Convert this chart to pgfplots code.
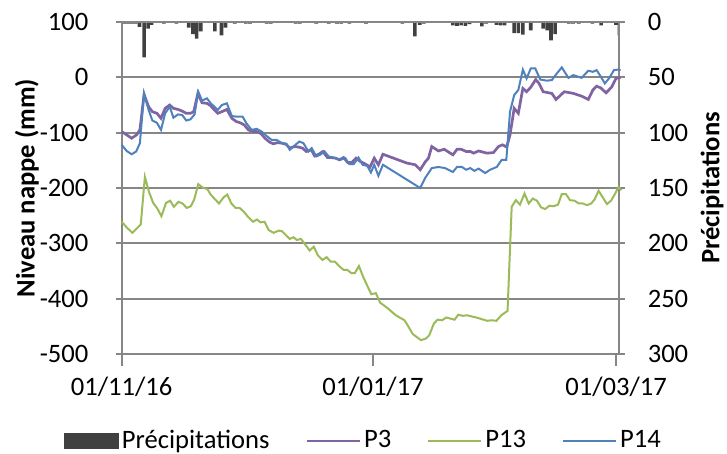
\documentclass[border=0pt]{standalone}
\usepackage{fontspec}
\setmainfont{Carlito}
\usepackage{pgfplots}
\pgfplotsset{compat=1.18}
\definecolor{axgray}{HTML}{868686}
\definecolor{bargray}{HTML}{404040}
\definecolor{cP3}{HTML}{8064A2}
\definecolor{cP13}{HTML}{9BBB59}
\definecolor{cP14}{HTML}{4F81BD}
\newcommand{\chartfont}{\fontsize{13.3}{16}\selectfont}
\begin{document}
\chartfont
\begin{tikzpicture}
\useasboundingbox (-60.85pt,-50pt) rectangle (302.65pt,177pt);
% secondary axis: precipitation bars (reversed), grid
\begin{axis}[
  width=248.4pt, height=166pt, scale only axis,
  xmin=0, xmax=120, ymin=0, ymax=300, y dir=reverse,
  axis x line=none, axis y line*=right,
  axis line style={axgray, line width=1pt, -},
  ytick={0,50,...,300},
  yticklabels={0,50,100,150,200,250,300},
  ymajorgrids, grid style={axgray, line width=1pt},
  tick align=center, major tick length=6pt,
  tick style={axgray, line width=1pt},
  yticklabel style={font=\chartfont, anchor=west, xshift=7pt},
  ylabel={\bfseries Précipitations},
  ylabel style={at={(axis description cs:1.1884,0.5)}, anchor=center, font=\chartfont},
]
\addplot[ybar, bar width=1.8pt, fill=bargray, draw=none] coordinates {
(0.6,1.5) (1.5,1.5) (2.4,1.5) (3.3,1.5) (4.3,4.5) (5.4,32) (6.4,6) (7.2,2.5)
(10.2,1.5) (13.2,1.5) (16.2,5) (17.2,11) (18.1,15) (19.1,8.5) (22.5,8.5)
(24.1,12) (25.1,5) (27.3,1.5) (30,1.5) (31,1.5) (35,1.5) (36,1.5) (42,1.5)
(43,1.5) (47,1.5) (50,1.5) (52,1.5) (53,1.5) (55,1.5) (59,1.5) (67.8,1.5)
(70.8,13) (72,2.5) (73,1.5) (80,3) (81,3.5) (82,3) (83,3.5) (84,2) (87,4)
(88,1.5) (90.5,2.5) (91.5,3) (92.5,3) (94.8,10) (95.8,10) (96.9,11.5)
(98.8,7.5) (101.8,6) (102.8,7.5) (103.7,16.5) (104.7,11) (108,1.5) (109,1.5)
(110.4,1.5) (113.7,1.5) (115.8,3) (119.4,2.5) (120.2,12)
};
\end{axis}
% primary axis: water levels
\begin{axis}[
  width=248.4pt, height=166pt, scale only axis,
  xmin=0, xmax=120, ymin=-500, ymax=100,
  clip=false,
  axis line style={axgray, line width=1pt, -},
  xtick={0,60.7,119.4},
  xticklabels={01/11/16,01/01/17,01/03/17},
  xtick pos=bottom, ytick pos=left,
  ytick={-500,-400,...,100},
  yticklabels={-500,-400,-300,-200,-100,0,100},
  tick align=center, major tick length=6pt,
  tick style={axgray, line width=1pt},
  xtick style={yshift=-3pt},
  yticklabel style={font=\chartfont, anchor=east, xshift=-9pt},
  xticklabel style={font=\chartfont, anchor=north, yshift=-4pt},
  ylabel={\bfseries Niveau nappe (mm)},
  ylabel style={at={(axis description cs:-0.1908,0.5)}, anchor=center, font=\chartfont},
  legend image code/.code={\draw (0pt,0pt) -- (26.5pt,0pt);},
  legend columns=4,
  legend style={at={(axis description cs:0.4877,-0.262)}, anchor=center, draw=none, fill=none,
    font=\chartfont,
    nodes={inner xsep=1.5pt, inner ysep=1pt},
    /tikz/every even column/.append style={column sep=16.5pt}},
]
\addlegendimage{legend image code/.code={\fill[bargray] (0pt,-3.75pt) rectangle (27pt,3.75pt);}}
\addlegendentry{Précipitations}
\addplot[cP3, line width=1.35pt] coordinates {
(0,-98) (1.2,-104) (2.4,-110) (3.6,-104) (4.4,-95) (5.4,-31) (6.5,-53) (7.4,-62)
(8.5,-65) (9.5,-74) (10.5,-56) (11.6,-50) (12.5,-56) (13.6,-58) (14.6,-61)
(15.6,-65) (16.6,-65) (17.4,-62) (18.4,-29) (19.4,-46) (20.6,-47) (21.4,-51)
(23.2,-65) (24.2,-62) (25.4,-58) (26.6,-74) (27.7,-80) (28.6,-82) (29.6,-86)
(30.6,-95) (31.7,-98) (32.6,-98) (33.7,-102) (34.6,-110) (35.7,-117) (36.6,-120)
(37.7,-118) (38.7,-119) (39.7,-121) (40.6,-128) (41.7,-125) (42.7,-126)
(43.7,-128) (44.6,-134) (45.8,-131) (46.6,-142) (47.6,-139) (48.6,-134)
(49.7,-145) (50.6,-145) (51.6,-146) (52.6,-149) (53.6,-145) (54.6,-154)
(55.6,-154) (56.6,-146) (57.6,-152) (58.7,-156) (60,-162) (61,-146) (62,-158)
(63.1,-139) (68.9,-155) (70.9,-158) (72.1,-167) (73.3,-153) (74.1,-146)
(74.9,-125) (76.5,-133) (77.9,-130) (80,-140) (81,-130) (82,-130) (83.2,-134)
(84.2,-134) (85,-137) (86.2,-133) (88.2,-137) (89.8,-136) (91,-125) (92,-122)
(93,-126) (93.8,-104) (94.8,-56) (95.8,-65) (96.9,-20) (97.8,-26) (98.8,-18)
(100,-4) (100.8,-11) (101.8,-26) (103.9,-29) (104.9,-40) (106.9,-26)
(109.1,-29) (111.1,-34) (112.7,-40) (113.8,-23) (114.7,-16) (115.7,-19)
(117,-28) (118.3,-18) (119.4,-2) (120.5,0)
};
\addlegendentry{P3}
\addplot[cP13, line width=1pt] coordinates {
(0,-261) (1.3,-272) (2.6,-281) (4.6,-266) (5.6,-180) (6.6,-207) (7.6,-227)
(8.6,-237) (9.6,-251) (10.7,-227) (11.7,-223) (12.6,-234) (13.7,-225)
(14.7,-228) (15.7,-236) (16.7,-233) (17.5,-221) (18.5,-193) (19.5,-199)
(20.7,-202) (21.5,-212) (22.5,-220) (23.5,-228) (24.6,-217) (25.5,-212)
(26.5,-228) (27.5,-236) (28.5,-236) (29.5,-243) (30.5,-252) (31.7,-261)
(32.7,-257) (33.5,-262) (34.5,-261) (35.5,-276) (36.7,-281) (37.9,-277)
(38.7,-278) (39.5,-284) (40.6,-292) (41.5,-289) (42.3,-294) (43.3,-292)
(44.4,-303) (45.4,-313) (46.4,-306) (47.4,-322) (48.5,-330) (49.5,-325)
(50.5,-333) (51.5,-333) (52.5,-341) (53.6,-348) (54.5,-348) (55.5,-354)
(56.3,-354) (57.3,-341) (58.3,-360) (59.4,-378) (60.3,-392) (61.4,-390)
(62.4,-407) (64.2,-417) (66.2,-430) (68.3,-439) (69.3,-451) (70.3,-464)
(72.3,-475) (73.5,-472) (74.3,-466) (75.4,-445) (76.3,-438) (77.4,-439)
(78.4,-434) (80.4,-438) (81.3,-429) (82.4,-431) (83.4,-430) (85.6,-434)
(88.3,-440) (89.3,-439) (90.5,-440) (91.7,-430) (93.2,-422) (94.2,-234)
(95.2,-222) (96.2,-230) (97.3,-210) (98.3,-228) (99.3,-219) (100.3,-223)
(101.3,-235) (102.3,-238) (103.3,-232) (104.3,-233) (105.4,-230) (106.3,-211)
(107.3,-211) (108.3,-222) (109.4,-223) (110.4,-228) (111.4,-228) (112.4,-231)
(113.4,-228) (114.2,-221) (115.2,-205) (117.2,-229) (118.2,-223) (119.2,-210)
(120,-198) (120.7,-204)
};
\addlegendentry{P13}
\addplot[cP14, line width=1pt] coordinates {
(0,-122) (1.2,-133) (2.4,-139) (3.5,-134) (4.4,-119) (5.4,-29) (6.5,-59)
(7.4,-78) (8.5,-82) (9.5,-95) (10.5,-65) (11.6,-53) (12.5,-73) (13.6,-67)
(14.6,-68) (15.6,-78) (16.6,-76) (17.6,-67) (18.5,-26) (19.4,-42) (20.6,-38)
(21.4,-46) (23.2,-59) (24.2,-50) (25.4,-47) (26.6,-70) (27.7,-71) (29.2,-71)
(30.2,-84) (31.4,-95) (32.6,-93) (33.8,-98) (35,-106) (36.2,-113) (37.4,-113)
(38.7,-119) (39.8,-120) (40.6,-131) (41.8,-123) (42.9,-116) (43.9,-119)
(45.1,-134) (45.9,-128) (47,-143) (47.9,-140) (49,-134) (50,-143) (51.2,-145)
(52.8,-149) (54,-146) (55,-157) (56,-157) (57.2,-145) (58.2,-158) (59.3,-160)
(60.2,-172) (61,-158) (62,-178) (63.1,-158) (72.1,-200) (73.3,-182)
(74.9,-164) (76.5,-162) (78.1,-164) (80,-171) (81,-162) (82.2,-162)
(83.2,-167) (84.2,-164) (85.2,-169) (86.2,-165) (87.8,-173) (89,-167)
(90.6,-162) (91.8,-149) (92.9,-149) (93.8,-62) (94.8,-32) (95.8,-23)
(96.9,14) (97.8,-2) (98.8,16) (99.9,16) (101.1,-4) (102.7,-6) (103.9,-5)
(105.1,7) (106.3,18) (107.9,-1) (109.1,4) (111.1,-1) (112.7,12) (113.8,10)
(114.7,13) (115.5,4) (116.7,-11) (117.8,-1) (118.9,13) (119.9,14) (120.5,13)
};
\addlegendentry{P14}
\end{axis}
\end{tikzpicture}
\end{document}
